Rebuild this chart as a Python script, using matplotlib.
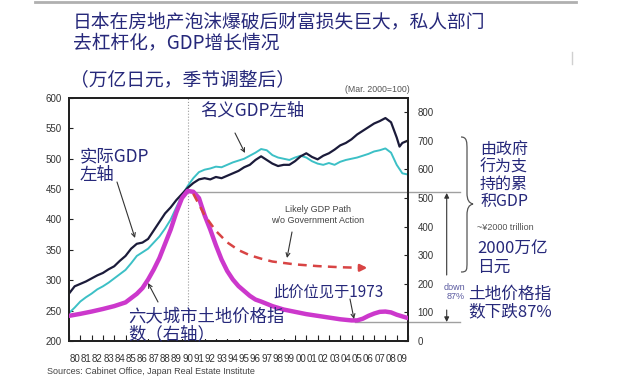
import matplotlib
matplotlib.use("Agg")
import matplotlib.pyplot as plt
from matplotlib.patches import PathPatch, Rectangle, FancyArrowPatch
from matplotlib.path import Path
from matplotlib.lines import Line2D

plt.rcParams['font.family'] = ['Liberation Sans', 'Noto Sans CJK SC', 'DejaVu Sans']
CJK = ['Noto Sans CJK SC', 'DejaVu Sans']

# ---------------- data ----------------
real_years = [1980.0, 1980.5, 1981.0, 1981.5, 1982.0, 1982.5, 1983.0, 1983.5, 1984.0, 1984.5,
              1985.0, 1985.5, 1986.0, 1986.5, 1987.0, 1987.5, 1988.0, 1988.5, 1989.0, 1989.5,
              1990.0, 1990.5, 1991.0, 1991.5, 1992.0, 1992.5, 1993.0, 1993.5, 1994.0, 1994.5,
              1995.0, 1995.5, 1996.0, 1996.5, 1997.0, 1997.5, 1998.0, 1998.5, 1999.0, 1999.5,
              2000.0, 2000.5, 2001.0, 2001.5, 2002.0, 2002.5, 2003.0, 2003.5, 2004.0, 2004.5,
              2005.0, 2005.5, 2006.0, 2006.5, 2007.0, 2007.5, 2008.0, 2008.5, 2009.0, 2009.25,
              2009.5, 2010.0]
real_gdp = [278, 290, 294, 298, 303, 308, 312, 318, 323, 332,
            340, 352, 360, 362, 368, 382, 396, 410, 420, 432,
            442, 452, 460, 466, 468, 466, 470, 468, 472, 476,
            480, 486, 490, 498, 504, 498, 492, 488, 490, 490,
            496, 504, 509, 503, 499, 505, 509, 515, 522, 526,
            532, 540, 546, 552, 558, 562, 567, 560, 535, 520,
            526, 530]

nom_years = [1980.0, 1980.5, 1981.0, 1981.5, 1982.0, 1982.5, 1983.0, 1983.5, 1984.0, 1984.5,
             1985.0, 1985.5, 1986.0, 1986.5, 1987.0, 1987.5, 1988.0, 1988.5, 1989.0, 1989.5,
             1990.0, 1990.5, 1991.0, 1991.5, 1992.0, 1992.5, 1993.0, 1993.5, 1994.0, 1994.5,
             1995.0, 1995.5, 1996.0, 1996.5, 1997.0, 1997.5, 1998.0, 1998.5, 1999.0, 1999.5,
             2000.0, 2000.5, 2001.0, 2001.5, 2002.0, 2002.5, 2003.0, 2003.5, 2004.0, 2004.5,
             2005.0, 2005.5, 2006.0, 2006.5, 2007.0, 2007.5, 2008.0, 2008.5, 2009.0, 2009.5,
             2010.0]
nominal_gdp = [246, 255, 265, 272, 278, 285, 290, 296, 303, 310,
               317, 328, 340, 346, 352, 362, 372, 385, 400, 420,
               440, 455, 468, 478, 482, 484, 487, 486, 490, 494,
               497, 500, 505, 510, 516, 514, 506, 502, 500, 498,
               502, 505, 502, 496, 492, 490, 493, 490, 495, 498,
               500, 502, 505, 508, 512, 514, 517, 510, 490, 476,
               474]

land_years = [1980, 1981, 1982, 1983, 1984, 1985, 1985.5, 1986, 1986.5, 1987,
              1987.5, 1988, 1988.5, 1989, 1989.5, 1990, 1990.5, 1991, 1991.5, 1992,
              1992.5, 1993, 1993.5, 1994, 1994.5, 1995, 1995.5, 1996, 1996.5, 1997,
              1998, 1999, 2000, 2001, 2002, 2003, 2004, 2005, 2005.5, 2006,
              2006.5, 2007, 2007.5, 2008, 2008.5, 2009, 2009.5, 2010]
land_index = [88, 95, 103, 112, 122, 135, 150, 165, 185, 215,
              250, 290, 340, 390, 450, 500, 525, 522, 500, 440,
              390, 335, 285, 245, 215, 192, 175, 158, 145, 138,
              122, 110, 102, 94, 88, 82, 76, 72, 72, 78,
              88, 96, 102, 103, 100, 92, 86, 80]

path_years = [1991.0, 1992.0, 1993.0, 1994.0, 1995.0, 1996.0, 1997.0, 1998.0, 2000.0, 2002.0, 2004.0, 2005.8]
likely_path = [515, 440, 385, 345, 318, 300, 288, 278, 268, 262, 258, 256]

year_labels = ['80', '81', '82', '83', '84', '85', '86', '87', '88', '89',
               '90', '91', '92', '93', '94', '95', '96', '97', '98', '99',
               '00', '01', '02', '03', '04', '05', '06', '07', '08', '09']
left_ticks = [200, 250, 300, 350, 400, 450, 500, 550, 600]
right_ticks = [0, 100, 200, 300, 400, 500, 600, 700, 800]

title_line1 = "日本在房地产泡沫爆破后财富损失巨大，私人部门"
title_line2 = "去杠杆化，GDP增长情况"
subtitle = "（万亿日元，季节调整后）"

# ---------------- figure ----------------
W, H = 638, 389
fig = plt.figure(figsize=(W / 100, H / 100), dpi=100)


def F(x, y):
    return (x / W, 1 - y / H)


L, R, T, B = 69, 408, 98, 341
ax = fig.add_axes([L / W, 1 - B / H, (R - L) / W, (B - T) / H])
ax2 = ax.twinx()

NAVY = '#26287a'

ax.plot(real_years, real_gdp, color='#1b1b3a', lw=1.6, zorder=3)
ax.plot(nom_years, nominal_gdp, color='#3cc0c6', lw=1.4, zorder=2)
ax.axvline(1990.5, color='#9a9a9a', lw=0.8, ls=':', zorder=1)

ax2.plot(land_years, land_index, color='#cc38cc', lw=3.2, solid_capstyle='round', zorder=3)
ax2.plot(path_years, likely_path, color='#d84444', lw=1.8, ls=(0, (3.5, 2.5)), zorder=3)
ax2.annotate('', xy=(path_years[-1] + 0.6, likely_path[-1]),
             xytext=(path_years[-1] - 0.1, likely_path[-1]),
             arrowprops=dict(arrowstyle='-|>', color='#d84444', lw=1.8, mutation_scale=10,
                             shrinkA=0, shrinkB=0))

# horizontal reference lines extending past the axes
ax2.plot([1990.5, 2014.6], [522, 522], color='#a0a0a0', lw=1.0, clip_on=False, zorder=1)
ax2.plot([2005.3, 2014.6], [65, 65], color='#a0a0a0', lw=1.0, clip_on=False, zorder=1)

ax.set_xlim(1980, 2010)
ax.set_ylim(200, 600)
ax2.set_ylim(0, 850)

ax.set_yticks(left_ticks)
ax.tick_params(axis='y', direction='in', length=3, width=0.8, labelsize=7, pad=5,
               labelcolor='#333333', color='#222222')
ax2.set_yticks(right_ticks)
ax2.tick_params(axis='y', direction='in', length=3, width=0.8, labelsize=7, pad=7,
                labelcolor='#333333', color='#222222')

ax.set_xticks([1980.5 + i for i in range(len(year_labels))])
ax.set_xticklabels(year_labels)
ax.set_xticks(range(1980, 2011), minor=True)
ax.tick_params(axis='x', which='major', length=0, labelsize=7, pad=9, labelcolor='#333333')
ax.tick_params(axis='x', which='minor', direction='in', length=4, width=0.8, color='#222222')

for a in (ax, ax2):
    for s in a.spines.values():
        s.set_linewidth(1.4)
        s.set_color('#222222')

# ---------------- figure-level decoration ----------------
fig.add_artist(Line2D([35 / W, 576 / W], [1 - 2 / H, 1 - 2 / H], color='#b0b0b0', lw=2))
fig.add_artist(Line2D([572 / W, 572 / W], [1 - 52 / H, 1 - 64 / H], color='#d0d0d0', lw=1))

fig.text(*F(73, 22), title_line1, ha='left', va='center', fontsize=13.5, color=NAVY,
         family=CJK, weight='medium')
fig.text(*F(73, 43), title_line2, ha='left', va='center', fontsize=13.5, color=NAVY,
         family=CJK, weight='medium')
fig.text(*F(70, 80), subtitle, ha='left', va='center', fontsize=13.5, color=NAVY,
         family=CJK, weight='medium')
fig.text(*F(410, 89), "(Mar. 2000=100)", ha='right', va='center', fontsize=6.3, color='#555555')

# white patch hiding part of the bottom ticks (pasted label area)
fig.add_artist(Rectangle(F(127, 339), (295 - 127) / W, (339 - 321) / H,
                         transform=fig.transFigure, facecolor='white', edgecolor='none', zorder=2.6))

# in-plot annotations
fig.text(*F(200, 111), "名义GDP左轴", ha='left', va='center', fontsize=12.5, color=NAVY,
         family=CJK, weight='medium')
fig.text(*F(80, 147), "实际GDP\n左轴", ha='left', va='top', fontsize=12.5, color=NAVY,
         family=CJK, weight='medium', linespacing=1.05)
fig.text(*F(128, 307), "六大城市土地价格指\n数（右轴）", ha='left', va='top', fontsize=12.5,
         color=NAVY, family=CJK, weight='medium', linespacing=1.0, zorder=3)
fig.text(*F(273, 292), "此价位见于1973", ha='left', va='center', fontsize=11, color=NAVY,
         family=CJK, weight='medium')
fig.text(*F(318, 215), "Likely GDP Path\nw/o Government Action", ha='center', va='center',
         fontsize=6.5, color='#444444', linespacing=1.3)

arrow_kw = dict(arrowstyle='->', color='#333333', lw=0.8, mutation_scale=7, shrinkA=0, shrinkB=0)
for start, end in [((117, 182), (135, 238)),
                   ((235, 133), (245, 153)),
                   ((158, 302), (148, 283)),
                   ((350, 299), (354, 319)),
                   ((292, 232), (287, 258))]:
    fig.add_artist(FancyArrowPatch(F(*start), F(*end), transform=fig.transFigure, **arrow_kw))

# right side: vertical "down 87%" arrow
fig.add_artist(FancyArrowPatch(F(446.7, 275), F(446.7, 193), transform=fig.transFigure,
                               arrowstyle='-|>', color='#333333', lw=0.8,
                               mutation_scale=7, shrinkA=0, shrinkB=0))
fig.add_artist(FancyArrowPatch(F(446.7, 310), F(446.7, 322), transform=fig.transFigure,
                               arrowstyle='-|>', color='#333333', lw=0.8,
                               mutation_scale=7, shrinkA=0, shrinkB=0))
fig.text(*F(465, 292), "down\n87%", ha='right', va='center', fontsize=6.5, color='#5a5aa0',
         linespacing=1.1)

# curly brace
verts = [F(461, 137), F(467, 137), F(467, 142), F(467, 150),
         F(467, 193),
         F(467, 200), F(469, 203), F(473, 204),
         F(469, 205), F(467, 208), F(467, 215),
         F(467, 262),
         F(467, 270), F(467, 272), F(461, 272)]
codes = [Path.MOVETO, Path.CURVE4, Path.CURVE4, Path.CURVE4,
         Path.LINETO,
         Path.CURVE4, Path.CURVE4, Path.CURVE4,
         Path.CURVE4, Path.CURVE4, Path.CURVE4,
         Path.LINETO,
         Path.CURVE4, Path.CURVE4, Path.CURVE4]
fig.add_artist(PathPatch(Path(verts, codes), transform=fig.transFigure, facecolor='none',
                         edgecolor='#555555', lw=0.9))

fig.text(*F(480, 142), "由政府\n行为支\n持的累\n积GDP", ha='left', va='top', fontsize=11.5,
         color=NAVY, family=CJK, weight='medium', linespacing=1.0)
fig.text(*F(477, 228), "~¥2000 trillion", ha='left', va='center', fontsize=6.5, color='#555555')
fig.text(*F(477, 241), "2000万亿\n日元", ha='left', va='top', fontsize=12, color=NAVY,
         family=CJK, weight='medium', linespacing=1.05)
fig.text(*F(468, 286), "土地价格指\n数下跌87%", ha='left', va='top', fontsize=12, color=NAVY,
         family=CJK, weight='medium', linespacing=1.05)

fig.text(*F(47, 372), "Sources: Cabinet Office, Japan Real Estate Institute", ha='left', va='center',
         fontsize=6.5, color='#444444')

fig.savefig('out.png', dpi=100, facecolor='white')
